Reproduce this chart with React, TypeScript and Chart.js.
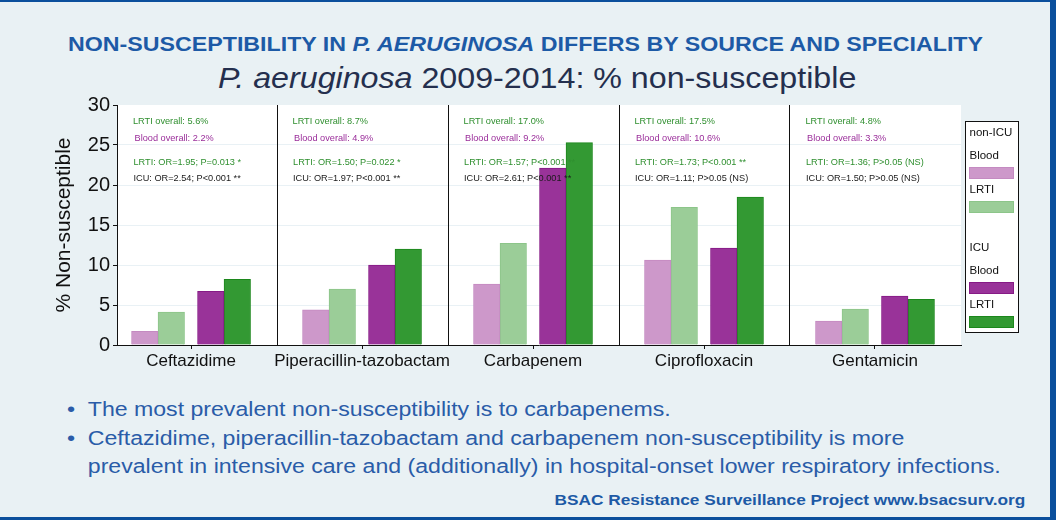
import React, { useEffect, useRef } from "react";
import { Chart, registerables } from "chart.js";

Chart.register(...registerables);

// ---------- data ----------
const categories = ["Ceftazidime", "Piperacillin-tazobactam", "Carbapenem", "Ciprofloxacin", "Gentamicin"];
const nonIcuBlood = [1.7, 4.4, 7.6, 10.6, 3.0];
const nonIcuLrti = [4.1, 7.0, 12.7, 17.2, 4.5];
const icuBlood = [6.7, 10.0, 22.1, 12.1, 6.1];
const icuLrti = [8.2, 12.0, 25.3, 18.5, 5.7];

const lrtiOverall = ["5.6%", "8.7%", "17.0%", "17.5%", "4.8%"];
const bloodOverall = ["2.2%", "4.9%", "9.2%", "10.6%", "3.3%"];
const lrtiOr = ["OR=1.95; P=0.013 *", "OR=1.50; P=0.022 *", "OR=1.57; P<0.001 **", "OR=1.73; P<0.001 **", "OR=1.36; P>0.05 (NS)"];
const icuOr = ["OR=2.54; P<0.001 **", "OR=1.97; P<0.001 **", "OR=2.61; P<0.001 **", "OR=1.11; P>0.05 (NS)", "OR=1.50; P>0.05 (NS)"];

const yTicks = [0, 5, 10, 15, 20, 25, 30];

// ---------- styles / layout ----------
const FONT = "'Liberation Sans', Arial, Helvetica, sans-serif";
const series = [
  { label: "Blood", group: "non-ICU", values: nonIcuBlood, fill: "#cd98ca", border: "#c48ac1" },
  { label: "LRTI", group: "non-ICU", values: nonIcuLrti, fill: "#9bcd98", border: "#8cc589" },
  { label: "Blood", group: "ICU", values: icuBlood, fill: "#993399", border: "#861a86" },
  { label: "LRTI", group: "ICU", values: icuLrti, fill: "#339933", border: "#1c871c" },
];
const slotOffsets = [-0.2705, -0.1155, 0.1155, 0.2705];
const X_MIN = -0.433;
const X_MAX = 4.503;

const bgPlugin = {
  id: "plotBg",
  beforeDraw(chart: any) {
    const { ctx, chartArea: a } = chart;
    ctx.save();
    ctx.fillStyle = "#ffffff";
    ctx.fillRect(a.left, a.top, a.right - a.left, a.bottom - a.top);
    ctx.restore();
  },
};

const separatorPlugin = {
  id: "separators",
  beforeDatasetsDraw(chart: any) {
    const { ctx, chartArea: a, scales } = chart;
    ctx.save();
    ctx.strokeStyle = "#111";
    ctx.lineWidth = 1;
    for (let j = 0; j < categories.length - 1; j++) {
      const x = Math.round(scales.x.getPixelForValue(j + 0.5)) + 0.5;
      ctx.beginPath();
      ctx.moveTo(x, a.top);
      ctx.lineTo(x, a.bottom);
      ctx.stroke();
    }
    ctx.restore();
  },
};

const annotationPlugin = {
  id: "annotations",
  afterDatasetsDraw(chart: any) {
    const { ctx, chartArea: a, scales } = chart;
    ctx.save();
    ctx.font = `9.2px ${FONT}`;
    ctx.textBaseline = "middle";
    ctx.textAlign = "left";
    categories.forEach((_, i) => {
      const left = i === 0 ? a.left : scales.x.getPixelForValue(i - 0.5);
      const x = left + 16;
      const rows = [
        { t: `LRTI overall: ${lrtiOverall[i]}`, c: "#2f8f2f", dy: 16, dx: 0 },
        { t: `Blood overall: ${bloodOverall[i]}`, c: "#9a2d9a", dy: 33, dx: 1.5 },
        { t: `LRTI: ${lrtiOr[i]}`, c: "#2f8f2f", dy: 57, dx: 0.5 },
        { t: `ICU: ${icuOr[i]}`, c: "#1a1a1a", dy: 73, dx: 0.5 },
      ];
      rows.forEach((r) => {
        ctx.fillStyle = r.c;
        ctx.fillText(r.t, x + r.dx, a.top + r.dy);
      });
    });
    ctx.restore();
  },
};

const legendPlugin = {
  id: "customLegend",
  afterDraw(chart: any) {
    const { ctx, chartArea: a } = chart;
    const x = a.right + 4.5;
    const y = a.top + 16.5;
    const w = 53;
    const h = 211;
    ctx.save();
    ctx.fillStyle = "#ffffff";
    ctx.fillRect(x, y, w, h);
    ctx.strokeStyle = "#111";
    ctx.lineWidth = 1;
    ctx.strokeRect(x, y, w, h);
    ctx.font = `11.5px ${FONT}`;
    ctx.textBaseline = "middle";
    ctx.textAlign = "left";
    const groups = ["non-ICU", "ICU"];
    groups.forEach((g, gi) => {
      const gy = y + 11.5 + gi * 115;
      ctx.fillStyle = "#111";
      ctx.fillText(g, x + 4, gy);
      const items = series.filter((s) => s.group === g);
      items.forEach((s, k) => {
        const ly = gy + 23 + k * 34;
        ctx.fillStyle = "#111";
        ctx.fillText(s.label, x + 4, ly);
        ctx.fillStyle = s.fill;
        ctx.fillRect(x + 4, ly + 11.5, 44, 11);
        ctx.strokeStyle = s.border;
        ctx.strokeRect(x + 4, ly + 11.5, 44, 11);
      });
    });
    ctx.restore();
  },
};

function ChartBox() {
  const ref = useRef<HTMLCanvasElement | null>(null);
  useEffect(() => {
    if (!ref.current) return;
    const chart = new Chart(ref.current, {
      type: "bar",
      data: {
        datasets: series.map((s, k) => ({
          label: `${s.group} ${s.label}`,
          data: s.values.map((v, i) => ({ x: i + slotOffsets[k], y: v })),
          backgroundColor: s.fill,
          borderColor: s.border,
          borderWidth: 1,
          borderSkipped: "bottom",
          barThickness: 26.5,
          grouped: false,
        })) as any,
      },
      options: {
        responsive: false,
        animation: false,
        layout: { padding: { top: 10, right: 87, left: 0, bottom: 0 } },
        plugins: {
          legend: { display: false },
          tooltip: { enabled: false },
          title: { display: false },
        },
        scales: {
          x: {
            type: "linear",
            offset: false,
            min: X_MIN,
            max: X_MAX,
            afterBuildTicks: (s: any) => {
              s.ticks = categories.map((_, i) => ({ value: i }));
            },
            afterFit: (s: any) => {
              s.height = 35;
            },
            ticks: {
              callback: (_v: any, i: number) => categories[i],
              autoSkip: false,
              maxRotation: 0,
              font: { size: 17, family: FONT },
              color: "#111",
              padding: 2,
            },
            grid: { offset: false, drawOnChartArea: false, tickLength: 4, tickColor: "#111" },
            border: { color: "#111", width: 1 },
          },
          y: {
            min: 0,
            max: 30,
            afterBuildTicks: (s: any) => {
              s.ticks = yTicks.map((v) => ({ value: v }));
            },
            afterFit: (s: any) => {
              s.width = 117;
            },
            ticks: {
              font: { size: 20, family: FONT },
              color: "#111",
              padding: 3,
            },
            grid: {
              color: (c: any) => (c.tick && (c.tick.value === 0 || c.tick.value === 30) ? "rgba(0,0,0,0)" : "#e9f1f5"),
              tickColor: "#111",
              tickLength: 4,
            },
            border: { color: "#111", width: 1 },
            title: {
              display: true,
              text: "% Non-susceptible",
              font: { size: 21, family: FONT, lineHeight: 1.2 },
              color: "#111",
              padding: { top: 52, bottom: 0 },
            },
          },
        },
      } as any,
      plugins: [bgPlugin, separatorPlugin, annotationPlugin, legendPlugin],
    });
    return () => chart.destroy();
  }, []);
  return <canvas ref={ref} width={1048} height={290} style={{ width: 1048, height: 290, display: "block" }} />;
}

export default function App() {
  const blue = "#0b4f9c";
  const textBlue = "#1d5aa6";
  const stretch = 1.11;
  return (
    <div
      style={{
        position: "fixed",
        left: 0,
        top: 0,
        width: 1056,
        height: 520,
        background: "#e9f1f4",
        fontFamily: FONT,
        overflow: "hidden",
      }}
    >
      <div style={{ position: "absolute", left: 0, top: 0, width: 1056, height: 2, background: blue }} />
      <div style={{ position: "absolute", left: 1050, top: 0, width: 6, height: 520, background: blue }} />
      <div style={{ position: "absolute", left: 0, top: 517, width: 1056, height: 3, background: blue }} />

      <div
        style={{
          position: "absolute",
          left: 68,
          top: 32.5,
          fontSize: 21,
          lineHeight: "21px",
          fontWeight: "bold",
          color: textBlue,
          whiteSpace: "nowrap",
          transform: `scaleX(1.105)`,
          transformOrigin: "left center",
        }}
      >
        NON-SUSCEPTIBILITY IN <i>P. AERUGINOSA</i> DIFFERS BY SOURCE AND SPECIALITY
      </div>
      <div
        style={{
          position: "absolute",
          left: 218,
          top: 64,
          fontSize: 29,
          lineHeight: "29px",
          color: "#242f4e",
          whiteSpace: "nowrap",
          transform: `scaleX(${stretch})`,
          transformOrigin: "left center",
        }}
      >
        <i>P. aeruginosa</i> 2009-2014: % non-susceptible
      </div>

      <div style={{ position: "absolute", left: 0, top: 90 }}>
        <ChartBox />
      </div>

      <div
        style={{
          position: "absolute",
          left: 67,
          top: 395,
          fontSize: 20,
          lineHeight: "28.5px",
          color: "#2a5ca8",
          transform: `scaleX(1.155)`,
          transformOrigin: "left center",
        }}
      >
        <div style={{ whiteSpace: "nowrap" }}>
          <span style={{ display: "inline-block", width: 18 }}>•</span>The most prevalent non-susceptibility is to carbapenems.
        </div>
        <div style={{ whiteSpace: "nowrap" }}>
          <span style={{ display: "inline-block", width: 18 }}>•</span>Ceftazidime, piperacillin-tazobactam and carbapenem non-susceptibility is more
        </div>
        <div style={{ whiteSpace: "nowrap", paddingLeft: 18 }}>
          prevalent in intensive care and (additionally) in hospital-onset lower respiratory infections.
        </div>
      </div>

      <div
        style={{
          position: "absolute",
          right: 31,
          top: 492,
          fontSize: 15,
          lineHeight: "15px",
          fontWeight: "bold",
          color: textBlue,
          whiteSpace: "nowrap",
          transform: `scaleX(1.15)`,
          transformOrigin: "right center",
        }}
      >
        BSAC Resistance Surveillance Project www.bsacsurv.org
      </div>
    </div>
  );
}
